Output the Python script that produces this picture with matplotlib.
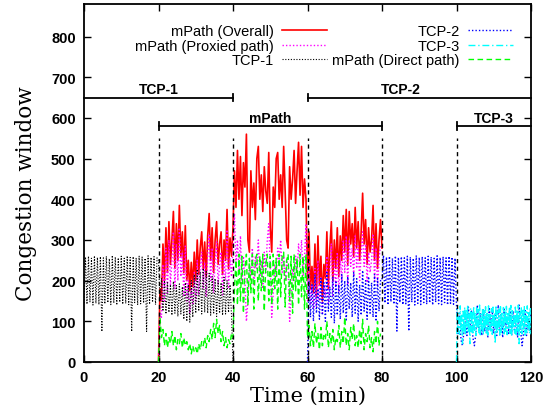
import numpy as np
import matplotlib
matplotlib.use("Agg")
import matplotlib.pyplot as plt

# ---------------- data ----------------
STEP = 0.4          # minutes between samples of the window traces
STEP_TCP3 = 0.2

# TCP-1 : 0 .. 40 min
tcp1_0_20 = [145, 258, 142, 260, 147, 255, 140, 261, 144, 257, 141, 259, 75, 256, 143, 260, 146, 254, 141, 262,
             145, 258, 140, 256, 147, 260, 142, 255, 144, 261, 141, 257, 75, 259, 146, 256, 140, 260, 143, 258,
             145, 255, 75, 261, 142, 257, 147, 259, 141, 256]
tcp1_20_40 = [250, 150, 205, 125, 200, 118, 195, 122, 190, 115, 198, 120, 188, 112, 192, 118, 185, 105, 195, 100,
              190, 98, 200, 110, 215, 120, 228, 125, 222, 118, 230, 122, 225, 120, 218, 115, 210, 118, 205, 112,
              200, 120, 195, 115, 208, 118, 200, 122, 190, 115, 0]

# mPath overall : 20 .. 80 min
overall_20_40 = [0, 180, 150, 290, 200, 330, 220, 345, 240, 300, 370, 230, 340, 250, 385, 260, 320, 220, 335, 200,
                 250, 175, 245, 185, 270, 200, 300, 215, 280, 320, 230, 295, 210, 310, 365, 250, 330, 220, 300, 345,
                 240, 290, 320, 215, 300, 250, 375, 230, 305, 260]
overall_40_60 = [330, 470, 380, 520, 400, 505, 360, 490, 430, 560, 300, 270, 470, 380, 440, 350, 500, 530, 400, 460,
                 370, 480, 420, 390, 515, 330, 270, 430, 380, 500, 515, 400, 460, 380, 530, 420, 300, 280, 480, 400,
                 450, 520, 390, 470, 540, 410, 530, 380, 450, 400]
overall_60_80 = [200, 320, 180, 235, 170, 290, 160, 310, 190, 260, 150, 240, 205, 320, 180, 280, 345, 200, 300, 230,
                 330, 210, 310, 250, 360, 270, 375, 240, 370, 290, 340, 260, 380, 280, 345, 250, 320, 415, 290, 350,
                 240, 330, 270, 300, 385, 250, 340, 230, 300, 350, 280]

# mPath proxied path : 20 .. 80 min
proxied_20_40 = [0, 120, 110, 240, 150, 280, 170, 300, 190, 250, 320, 180, 290, 200, 330, 210, 270, 160, 285, 150,
                 200, 120, 195, 140, 220, 150, 250, 165, 230, 270, 180, 245, 160, 260, 315, 200, 280, 170, 250, 295,
                 190, 240, 270, 165, 250, 200, 325, 180, 255, 210]
proxied_40_60 = [280, 365, 240, 300, 220, 310, 190, 260, 200, 100, 150, 240, 210, 280, 190, 260, 230, 300, 210, 250,
                 180, 270, 220, 300, 340, 230, 110, 170, 240, 210, 280, 250, 300, 220, 260, 200, 250, 230, 100, 160,
                 230, 200, 260, 220, 290, 240, 300, 210, 260, 340]
proxied_60_80 = [150, 250, 140, 190, 130, 230, 135, 250, 150, 210, 120, 190, 160, 260, 140, 230, 290, 160, 250, 185,
                 270, 170, 255, 200, 300, 220, 310, 190, 300, 235, 280, 210, 310, 230, 285, 200, 265, 320, 235, 290,
                 195, 270, 220, 250, 315, 200, 280, 185, 250, 290]

# mPath direct path : 20 .. 80 min
direct_20_40 = [0, 110, 60, 80, 40, 70, 35, 60, 45, 75, 40, 65, 30, 55, 45, 70, 35, 60, 40, 50,
                30, 45, 20, 40, 25, 35, 20, 45, 30, 50, 40, 60, 35, 65, 50, 80, 55, 95, 60, 105,
                70, 90, 50, 75, 40, 60, 35, 55, 45, 70]
direct_40_60 = [60, 180, 250, 140, 265, 150, 260, 120, 230, 265, 140, 255, 170, 265, 130, 250, 265, 150, 260, 175,
                265, 125, 240, 265, 150, 260, 140, 265, 180, 255, 130, 265, 160, 260, 270, 135, 250, 265, 150, 260,
                120, 265, 175, 255, 140, 265, 160, 260, 130, 265]
direct_60_80 = [60, 90, 40, 75, 35, 95, 45, 70, 30, 85, 40, 65, 55, 100, 35, 70, 45, 80, 30, 60,
                50, 90, 35, 75, 45, 110, 40, 70, 30, 85, 55, 95, 40, 65, 35, 80, 45, 105, 30, 70,
                50, 90, 35, 60, 25, 75, 45, 100, 40, 70]

# TCP-2 : 60 .. 120 min
tcp2_60_80 = [0, 200, 110, 190, 100, 215, 120, 180, 105, 205, 115, 195, 100, 220, 125, 185, 110, 210, 95, 200,
              115, 190, 105, 215, 120, 200, 100, 210, 130, 195, 110, 220, 120, 205, 100, 190, 115, 225, 125, 200,
              105, 210, 120, 195, 110, 215, 100, 205, 125, 200]
tcp2_80_100 = [200, 262, 145, 258, 140, 260, 148, 255, 142, 261, 76, 257, 146, 259, 141, 256, 143, 260, 76, 258,
               147, 255, 140, 262, 144, 257, 141, 259, 146, 256, 142, 260, 145, 258, 140, 255, 147, 261, 143, 257,
               141, 259, 146, 256, 140, 260, 144, 258, 142, 255]
tcp2_100_120 = [140, 70, 120, 55, 40, 75, 110, 65, 135, 80, 125, 60, 40, 70, 140, 85, 120, 65, 130, 75,
                110, 60, 135, 80, 125, 70, 115, 65, 140, 75, 120, 60, 130, 85, 110, 70, 135, 65, 125, 75,
                115, 60, 140, 80, 40, 70, 130, 65, 110, 75, 125]

# TCP-3 : 100 .. 120 min
tcp3_100_120 = [0, 130, 75, 120, 68, 138, 80, 115, 45, 125, 72, 135, 66, 128, 85, 140, 70, 118, 45, 132,
                74, 126, 68, 137, 78, 122, 65, 134, 82, 129, 70, 140, 67, 119, 76, 133, 69, 127, 81, 136,
                71, 124, 66, 138, 79, 117, 73, 131, 68, 135, 84, 121, 45, 139, 70, 125, 77, 130, 66, 136,
                72, 120, 80, 134, 69, 128, 75, 137, 67, 123, 83, 132, 70, 139, 65, 126, 78, 118, 71, 135,
                68, 129, 76, 140, 45, 122, 74, 133, 69, 127, 81, 136, 66, 124, 72, 138, 79, 121, 70, 131, 68]

# phase markers
phase_lines = [20, 40, 60, 80, 100]
phase_bars = [  # label, start, end, level, label x
    ("TCP-1", 0, 40, 650, 20),
    ("TCP-2", 60, 120, 650, 85),
    ("mPath", 20, 80, 580, 50),
    ("TCP-3", 100, 120, 580, 110),
]
xticks = [0, 20, 40, 60, 80, 100, 120]
yticks = [0, 100, 200, 300, 400, 500, 600, 700, 800]


def series(start, step, *segments):
    vals = np.concatenate([np.asarray(s, float) for s in segments])
    return start + step * np.arange(len(vals)), vals


# ---------------- figure ----------------
plt.rcParams["font.family"] = ["Liberation Sans", "DejaVu Sans"]
fig = plt.figure(figsize=(5.45, 4.10), dpi=100)
ax = fig.add_axes([84 / 545, 1 - 363 / 410, (531 - 84) / 545, (363 - 5) / 410])

t, y = series(20, STEP, overall_20_40, overall_40_60, overall_60_80)
ax.plot(t, y, color="#ff0000", lw=1.2, label="mPath (Overall)", zorder=2)
t, y = series(20, STEP, proxied_20_40, proxied_40_60, proxied_60_80)
ax.plot(t, y, color="#ff00ff", lw=1.0, ls=(0, (1, 1.5)), label="mPath (Proxied path)", zorder=3)
t, y = series(0, STEP, tcp1_0_20, tcp1_20_40)
ax.plot(t, y, color="black", lw=0.8, ls=(0, (1, 1.5)), label="TCP-1", zorder=4)
t, y = series(60, STEP, tcp2_60_80, tcp2_80_100, tcp2_100_120)
ax.plot(t, y, color="#0000ff", lw=1.0, ls=(0, (1, 1.5)), label="TCP-2", zorder=5)
t, y = series(100, STEP_TCP3, tcp3_100_120)
ax.plot(t, y, color="#00ffff", lw=1.0, ls=(0, (5, 2, 1, 2)), label="TCP-3", zorder=6)
t, y = series(20, STEP, direct_20_40, direct_40_60, direct_60_80)
ax.plot(t, y, color="#00ff00", lw=1.0, ls=(0, (4, 2.5)), label="mPath (Direct path)", zorder=7)

for x in phase_lines:
    ax.plot([x, x], [0, 550], color="black", lw=1.0, ls=(0, (3, 2.5)), zorder=8)

for name, x0, x1, lev, lx in phase_bars:
    ax.plot([x0, x1], [lev, lev], color="black", lw=1.3, zorder=8, clip_on=False)
    for xe in (x0, x1):
        if 0 < xe < 120:
            ax.plot([xe, xe], [lev - 9, lev + 9], color="black", lw=1.3, zorder=8)
    ax.text(lx, lev + 11, name, ha="center", va="baseline", fontsize=10, fontweight="bold")

ax.set_xlim(0, 120)
ax.set_ylim(0, 880)
ax.set_xticks(xticks)
ax.set_yticks(yticks)
ax.tick_params(direction="in", top=True, right=True, length=5, width=1, labelsize=10.5, pad=6)
for lbl in ax.get_xticklabels() + ax.get_yticklabels():
    lbl.set_fontweight("bold")
for sp in ax.spines.values():
    sp.set_linewidth(1.3)

ax.set_xlabel("Time (min)", family="DejaVu Serif", fontsize=15, labelpad=1)
ax.set_ylabel("Congestion window", family="DejaVu Serif", fontsize=15.5)
ax.yaxis.set_label_coords((37 - 84) / 447, (363 - 194) / 358)

leg = ax.legend(loc="upper right", bbox_to_anchor=(513 / 545, 1 - 25 / 410), bbox_transform=fig.transFigure,
                ncol=2, frameon=False, markerfirst=False, fontsize=10.5, handlelength=3.1,
                handletextpad=0.55, columnspacing=0.35, labelspacing=0.05, borderpad=0, borderaxespad=0)

fig.savefig("out.png", dpi=100)
